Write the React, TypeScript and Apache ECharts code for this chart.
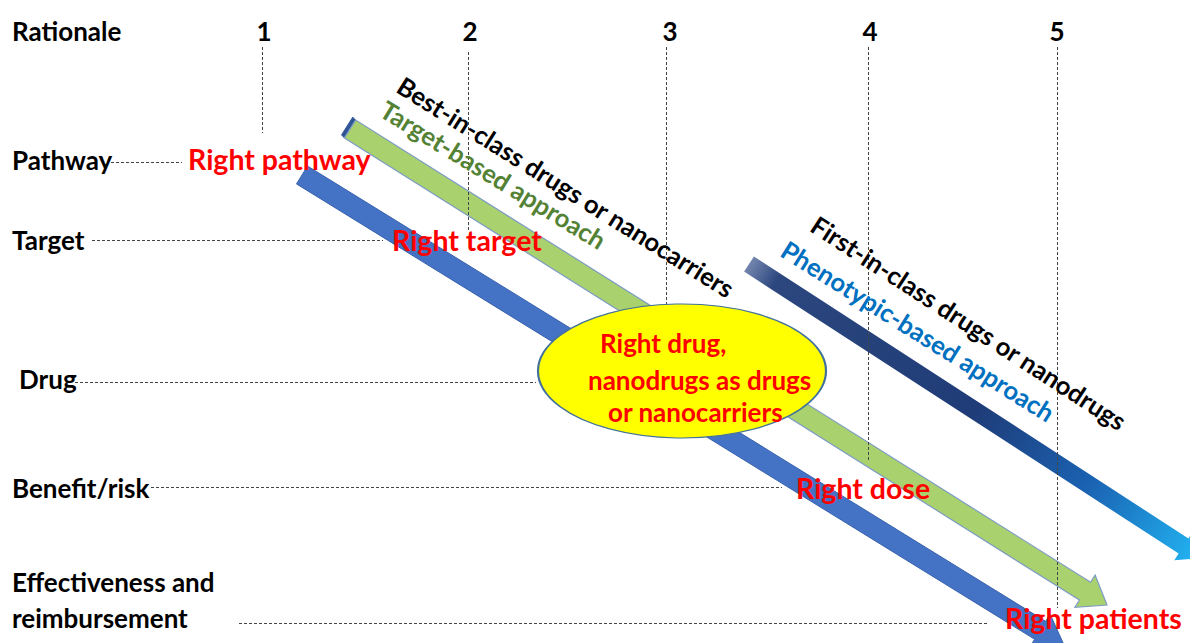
import React, { useEffect, useRef } from "react";
import * as echarts from "echarts";

const W = 1190;
const H = 643;

// ---- Header: rationale steps ----
const headerTitle = "Rationale";
const rationaleNumbers = ["1", "2", "3", "4", "5"];
const rationaleX = [264, 470, 670, 870, 1057];
const rationaleY = 31;
const rationaleGuideX = [262, 468, 666, 868, 1057];
const rationaleGuideTop = [47, 52, 47, 47, 47];
const rationaleGuideBottom = [133, 230, 304, 460, 608];

// ---- Rows ----
const rowLabels = ["Pathway", "Target", "Drug", "Benefit/risk", "Effectiveness and", "reimbursement"];
const rowLabelX = [12, 12, 19, 12, 12, 12];
const rowLabelY = [160, 240, 379, 488, 582, 618];

const rowGuideY = [162, 240, 382, 487, 623];
const rowGuideStart = [111, 92, 75, 151, 239];
const rowGuideEnd = [182, 383, 536, 782, 987];

// ---- "Right ..." milestones ----
const rightLabels = ["Right pathway", "Right target", "Right dose", "Right patients"];
const rightLabelX = [188, 392, 796, 1005];
const rightLabelY = [159, 240, 488, 618];

// ---- Central hub (ellipse) ----
const hubCenter = [682, 371];
const hubLines = ["Right drug,", "nanodrugs as drugs", "or nanocarriers"];
const hubLineX = [600, 588, 608];
const hubLineY = [343, 380, 412];

// ---- Arrows (start centre, tip) ----
const arrowNames = ["Target-based approach", "Best-in-class path", "Phenotypic-based approach"];
const arrowStart = [[350, 129], [302, 175], [749, 264]];
const arrowEnd = [[1107, 605], [1064, 645], [1202, 558]];

// ---- Stream titles along arrows ----
const streamTitles = [
  "Best-in-class drugs or nanocarriers",
  "Target-based approach",
  "First-in-class drugs or nanodrugs",
  "Phenotypic-based approach",
];
const streamTitleX = [400, 383, 814, 784];
const streamTitleY = [83, 107, 222, 247];
const streamTitleAngle = [32, 31.5, 33, 32];

// ---- Styles ----
const FONT_FAMILY = "Lato";
const BLACK_FONT = `bold 26px ${FONT_FAMILY}`;
const RED_FONT = `bold 28.5px ${FONT_FAMILY}`;
const HUB_FONT = `bold 26px ${FONT_FAMILY}`;
const STREAM_FONT = `bold 25.5px ${FONT_FAMILY}`;
const RED = "#FF0000";
const DASH_COLOR = "#444444";
const arrowWidth = [21, 21, 18];
const arrowHeadWidth = [38, 38, 34];
const arrowHeadLength = [26, 28, 22];
const streamColors = ["#000000", "#548235", "#000000", "#0070C0"];

type TextItem = {
  x: number;
  y: number;
  text: string;
  font: string;
  fill: string;
  align: "left" | "center" | "right";
  angle: number;
};

function buildTexts(): TextItem[] {
  const out: TextItem[] = [];
  out.push({ x: 12, y: rationaleY, text: headerTitle, font: BLACK_FONT, fill: "#000", align: "left", angle: 0 });
  rationaleNumbers.forEach((t, i) =>
    out.push({ x: rationaleX[i], y: rationaleY, text: t, font: BLACK_FONT, fill: "#000", align: "center", angle: 0 })
  );
  rowLabels.forEach((t, i) =>
    out.push({ x: rowLabelX[i], y: rowLabelY[i], text: t, font: BLACK_FONT, fill: "#000", align: "left", angle: 0 })
  );
  rightLabels.forEach((t, i) =>
    out.push({ x: rightLabelX[i], y: rightLabelY[i], text: t, font: RED_FONT, fill: RED, align: "left", angle: 0 })
  );
  hubLines.forEach((t, i) =>
    out.push({ x: hubLineX[i], y: hubLineY[i], text: t, font: HUB_FONT, fill: RED, align: "left", angle: 0 })
  );
  streamTitles.forEach((t, i) =>
    out.push({
      x: streamTitleX[i],
      y: streamTitleY[i],
      text: t,
      font: STREAM_FONT,
      fill: streamColors[i],
      align: "left",
      angle: streamTitleAngle[i],
    })
  );
  return out;
}

export default function App() {
  const ref = useRef<HTMLDivElement>(null);

  useEffect(() => {
    if (!ref.current) return;
    const chart = echarts.init(ref.current, undefined, { renderer: "svg" });
    const texts = buildTexts();

    const guideLines: any[] = [];
    rationaleGuideX.forEach((gx, i) => {
      guideLines.push({ coords: [[gx, rationaleGuideTop[i]], [gx, rationaleGuideBottom[i]]] });
    });
    rowGuideY.forEach((y, i) => {
      guideLines.push({ coords: [[rowGuideStart[i], y], [rowGuideEnd[i], y]] });
    });

    const option: any = {
      animation: false,
      backgroundColor: "#ffffff",
      grid: { left: 0, right: 0, top: 0, bottom: 0, containLabel: false },
      xAxis: { type: "value", min: 0, max: W, show: false },
      yAxis: { type: "value", min: 0, max: H, inverse: true, show: false },
      series: [
        {
          type: "custom",
          name: "arrows",
          coordinateSystem: "cartesian2d",
          silent: true,
          z: 1,
          clip: false,
          data: arrowNames.map((_, i) => [arrowStart[i][0], arrowStart[i][1], arrowEnd[i][0], arrowEnd[i][1]]),
          renderItem: (params: any, api: any) => {
            const i = params.dataIndex;
            const a = api.coord([api.value(0), api.value(1)]);
            const b = api.coord([api.value(2), api.value(3)]);
            const dx = b[0] - a[0];
            const dy = b[1] - a[1];
            const L = Math.hypot(dx, dy);
            const ux = dx / L;
            const uy = dy / L;
            const nx = -uy;
            const ny = ux;
            const w = arrowWidth[i] / 2;
            const hw = arrowHeadWidth[i] / 2;
            const hl = arrowHeadLength[i];
            const bx = b[0] - ux * hl;
            const by = b[1] - uy * hl;
            const pts = [
              [a[0] + nx * w, a[1] + ny * w],
              [bx + nx * w, by + ny * w],
              [bx + nx * hw, by + ny * hw],
              [b[0], b[1]],
              [bx - nx * hw, by - ny * hw],
              [bx - nx * w, by - ny * w],
              [a[0] - nx * w, a[1] - ny * w],
            ];
            if (i === 0) {
              const s = 4;
              const sliver = [
                [a[0] - ux * s - nx + nx * w, a[1] - uy * s - ny + ny * w],
                [a[0] + nx * w, a[1] + ny * w],
                [a[0] - nx * w, a[1] - ny * w],
                [a[0] - ux * s - nx * w - nx, a[1] - uy * s - ny * w - ny],
              ];
              return {
                type: "group",
                children: [
                  { type: "polygon", shape: { points: sliver }, style: { fill: "#2F5597", stroke: "#2F5597", lineWidth: 1 } },
                  { type: "polygon", shape: { points: pts }, style: { fill: "#A9D16D", stroke: "#7C9CC4", lineWidth: 1.2 } },
                ],
              };
            }
            if (i === 1) {
              return { type: "polygon", shape: { points: pts }, style: { fill: "#4472C4", stroke: "#3A63AE", lineWidth: 1 } };
            }
            const grad = new echarts.graphic.LinearGradient(
              a[0],
              a[1],
              b[0],
              b[1],
              [
                { offset: 0, color: "#7385AE" },
                { offset: 0.06, color: "#2C477E" },
                { offset: 0.5, color: "#1F3C78" },
                { offset: 0.75, color: "#1A62B2" },
                { offset: 1, color: "#22B6F4" },
              ],
              true
            );
            return { type: "polygon", shape: { points: pts }, style: { fill: grad } };
          },
        },
        {
          type: "lines",
          name: "guides",
          coordinateSystem: "cartesian2d",
          silent: true,
          z: 2,
          polyline: false,
          symbol: ["none", "none"],
          lineStyle: { color: DASH_COLOR, width: 1, type: [3, 2], opacity: 1 },
          data: guideLines,
        },
        {
          type: "scatter",
          name: "hub",
          silent: true,
          z: 3,
          symbol: "circle",
          symbolSize: [288, 134],
          itemStyle: { color: "#FFFF00", borderColor: "#41719C", borderWidth: 1.5, opacity: 1 },
          data: [hubCenter],
        },
        {
          type: "custom",
          name: "texts",
          coordinateSystem: "cartesian2d",
          silent: true,
          z: 4,
          clip: false,
          data: texts.map((t) => [t.x, t.y]),
          renderItem: (params: any, api: any) => {
            const t = texts[params.dataIndex];
            const p = api.coord([api.value(0), api.value(1)]);
            return {
              type: "text",
              x: p[0],
              y: p[1],
              rotation: (-t.angle * Math.PI) / 180,
              style: {
                text: t.text,
                font: t.font,
                fill: t.fill,
                textAlign: t.align,
                textVerticalAlign: "middle",
                align: t.align,
                verticalAlign: "middle",
              },
            };
          },
        },
      ],
    };

    chart.setOption(option);
    return () => chart.dispose();
  }, []);

  return (
    <div
      ref={ref}
      style={{ position: "fixed", left: 0, top: 0, width: W, height: H, background: "#fff" }}
    />
  );
}
